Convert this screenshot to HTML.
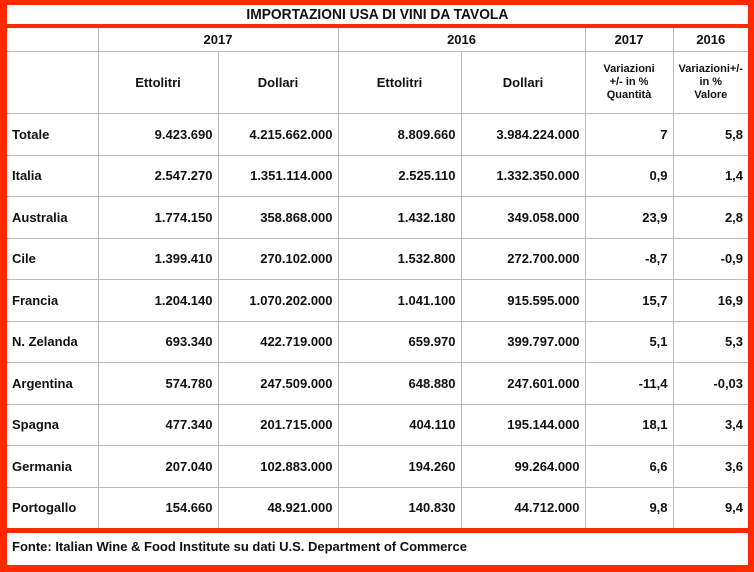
<!DOCTYPE html>
<html><head><meta charset="utf-8">
<style>
html,body{margin:0;padding:0;background:#fff;}
#wrap{position:relative;width:754px;height:572px;background:#ff2a00;overflow:hidden;font-family:"Liberation Sans",sans-serif;}
#title{position:absolute;left:7px;top:5px;width:741px;height:19px;background:#fff;text-align:center;font-weight:bold;font-size:15px;line-height:20px;color:#111;}
#title span{display:inline-block;transform:scaleX(0.92);}
#tbl{position:absolute;left:7px;top:28px;width:741px;height:500px;background:#fff;}
table{border-collapse:collapse;table-layout:fixed;width:741px;}
td{border:1px solid #bbb;font-weight:bold;font-size:13px;color:#111;padding:0 5px 0 4px;text-align:right;white-space:nowrap;}
td.l{text-align:left;padding-left:5px;}
td.c{text-align:center;padding:0;}
tr.h1 td{height:23px;}
tr.h2 td{height:61px;}
tr.d td{height:40.5px;}
td.s{font-size:11px;line-height:13px;}
table tr:first-child td{border-top:none;}
table tr td:first-child{border-left:none;}
table tr td:last-child{border-right:none;}
table tr:last-child td{border-bottom:none;}
#foot{position:absolute;left:7px;top:533px;width:741px;height:32px;background:#fff;font-size:13px;font-weight:bold;line-height:28px;color:#111;}
#foot span{padding-left:5px;}
</style></head><body>
<div id="wrap">
<div id="title"><span>IMPORTAZIONI USA DI VINI DA TAVOLA</span></div>
<div id="tbl">
<table>
<colgroup><col style="width:91px"><col style="width:120px"><col style="width:120px"><col style="width:123px"><col style="width:124px"><col style="width:88px"><col style="width:75px"></colgroup>
<tr class="h1"><td></td><td class="c" colspan="2">2017</td><td class="c" colspan="2">2016</td><td class="c">2017</td><td class="c">2016</td></tr>
<tr class="h2"><td></td><td class="c">Ettolitri</td><td class="c">Dollari</td><td class="c">Ettolitri</td><td class="c">Dollari</td><td class="c s">Variazioni<br>+/- in %<br>Quantità</td><td class="c s">Variazioni+/-<br>in %<br>Valore</td></tr>
<tr class="d"><td class="l">Totale</td><td>9.423.690</td><td>4.215.662.000</td><td>8.809.660</td><td>3.984.224.000</td><td>7</td><td>5,8</td></tr>
<tr class="d"><td class="l">Italia</td><td>2.547.270</td><td>1.351.114.000</td><td>2.525.110</td><td>1.332.350.000</td><td>0,9</td><td>1,4</td></tr>
<tr class="d"><td class="l">Australia</td><td>1.774.150</td><td>358.868.000</td><td>1.432.180</td><td>349.058.000</td><td>23,9</td><td>2,8</td></tr>
<tr class="d"><td class="l">Cile</td><td>1.399.410</td><td>270.102.000</td><td>1.532.800</td><td>272.700.000</td><td>-8,7</td><td>-0,9</td></tr>
<tr class="d"><td class="l">Francia</td><td>1.204.140</td><td>1.070.202.000</td><td>1.041.100</td><td>915.595.000</td><td>15,7</td><td>16,9</td></tr>
<tr class="d"><td class="l">N. Zelanda</td><td>693.340</td><td>422.719.000</td><td>659.970</td><td>399.797.000</td><td>5,1</td><td>5,3</td></tr>
<tr class="d"><td class="l">Argentina</td><td>574.780</td><td>247.509.000</td><td>648.880</td><td>247.601.000</td><td>-11,4</td><td>-0,03</td></tr>
<tr class="d"><td class="l">Spagna</td><td>477.340</td><td>201.715.000</td><td>404.110</td><td>195.144.000</td><td>18,1</td><td>3,4</td></tr>
<tr class="d"><td class="l">Germania</td><td>207.040</td><td>102.883.000</td><td>194.260</td><td>99.264.000</td><td>6,6</td><td>3,6</td></tr>
<tr class="d"><td class="l">Portogallo</td><td>154.660</td><td>48.921.000</td><td>140.830</td><td>44.712.000</td><td>9,8</td><td>9,4</td></tr>
</table>
</div>
<div id="foot"><span>Fonte: Italian Wine &amp; Food Institute su dati U.S. Department of Commerce</span></div>
</div>
</body></html>
